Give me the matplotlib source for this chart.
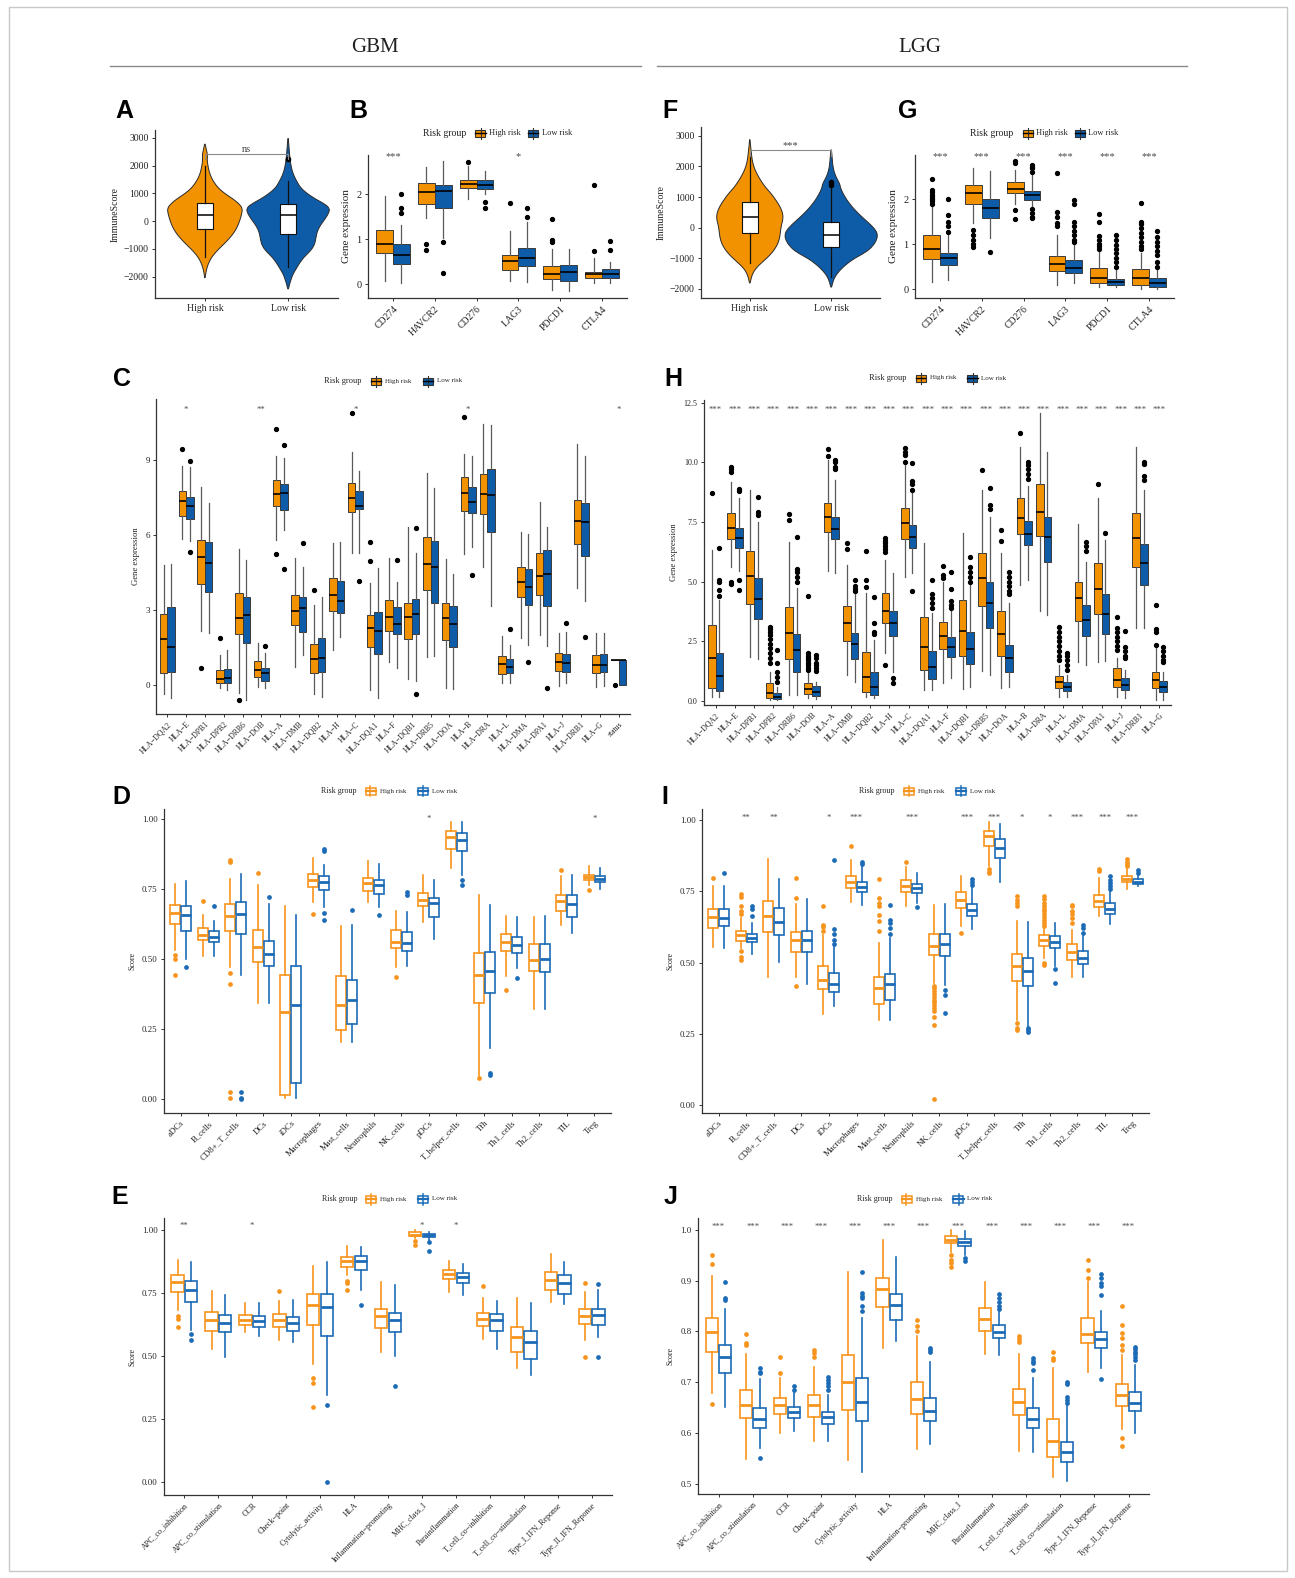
import numpy as np
import matplotlib
matplotlib.use("Agg")
import matplotlib.pyplot as plt
from matplotlib.patches import Rectangle, PathPatch
from matplotlib.path import Path
from matplotlib.lines import Line2D

plt.rcParams['font.family'] = ['Liberation Serif', 'DejaVu Serif']

W, H = 1295, 1578
ORANGE = "#F39200"
BLUE = "#0E5CA8"
ORANGE_L = "#F7941D"
BLUE_L = "#1C6BB6"
MINUS = "\u2212"

# ---------------- violin data (A = GBM, F = LGG) ----------------
groups = ["High risk", "Low risk"]
# value, relative half width
A_hi_y = [-2100, -1900, -1700, -1500, -1300, -1100, -900, -700, -500, -300, -100, 100, 300, 450,
          600, 800, 1000, 1200, 1400, 1600, 1800, 2000, 2200, 2400, 2550, 2700, 2800]
A_hi_w = [0, 0.02, 0.05, 0.1, 0.18, 0.3, 0.45, 0.6, 0.73, 0.83, 0.9, 0.95, 0.99, 1.0,
          0.93, 0.75, 0.52, 0.35, 0.24, 0.16, 0.11, 0.08, 0.06, 0.07, 0.04, 0.02, 0]
A_lo_y = [-2500, -2300, -2100, -1900, -1700, -1500, -1300, -1100, -900, -700, -500, -300, -100, 100,
          300, 450, 600, 800, 1000, 1200, 1400, 1600, 1800, 2000, 2200, 2500, 2800, 3050]
A_lo_w = [0, 0.03, 0.07, 0.12, 0.2, 0.28, 0.38, 0.52, 0.62, 0.66, 0.68, 0.72, 0.8, 0.9,
          0.98, 1.0, 0.9, 0.65, 0.45, 0.3, 0.22, 0.15, 0.1, 0.07, 0.05, 0.03, 0.015, 0]
F_hi_y = [-1850, -1700, -1500, -1300, -1100, -900, -700, -500, -300, -100, 100, 300, 500, 700,
          900, 1100, 1300, 1500, 1700, 1900, 2100, 2300, 2500, 2700, 2950]
F_hi_w = [0, 0.03, 0.08, 0.2, 0.4, 0.6, 0.75, 0.85, 0.9, 0.92, 0.95, 1.0, 0.98, 0.9,
          0.78, 0.65, 0.48, 0.35, 0.24, 0.15, 0.09, 0.06, 0.04, 0.02, 0]
F_lo_y = [-2000, -1800, -1600, -1400, -1200, -1000, -800, -600, -400, -250, -100, 100, 300, 500,
          700, 900, 1100, 1300, 1400, 1500, 1700, 1900, 2100, 2400, 2600]
F_lo_w = [0, 0.03, 0.08, 0.18, 0.32, 0.5, 0.75, 0.9, 0.98, 1.0, 0.97, 0.85, 0.7, 0.56,
          0.44, 0.34, 0.26, 0.2, 0.19, 0.16, 0.09, 0.05, 0.03, 0.015, 0]
# (whisker low, q1, median, q3, whisker high)
A_box = [(-1300, -300, 230, 640, 2000), (-1650, -480, 230, 600, 1450)]
A_out = [[], [2250]]
F_box = [(-1150, -170, 350, 850, 2300), (-1600, -630, -250, 170, 1300)]
F_out = [[], [1400, 1480]]

# ---------------- checkpoint genes (B = GBM, G = LGG) ----------------
ck_genes = ["CD274", "HAVCR2", "CD276", "LAG3", "PDCD1", "CTLA4"]
B_hi = [(0.08, 0.69, 0.89, 1.20, 1.96), (1.46, 1.78, 2.05, 2.24, 2.59), (1.90, 2.13, 2.22, 2.32, 2.62),
        (0.08, 0.32, 0.52, 0.66, 1.18), (-0.13, 0.11, 0.23, 0.41, 0.79), (0.04, 0.13, 0.23, 0.28, 0.58)]
B_hi_out = [[], [0.89, 0.77], [2.72], [1.79], [1.44, 0.98, 0.94], [2.2, 0.74]]
B_lo = [(0.02, 0.46, 0.65, 0.89, 1.31), (1.02, 1.70, 2.07, 2.20, 2.73), (2.01, 2.11, 2.21, 2.30, 2.51),
        (0.06, 0.41, 0.59, 0.81, 1.37), (-0.15, 0.08, 0.27, 0.43, 0.79), (0.04, 0.13, 0.23, 0.34, 0.50)]
B_lo_out = [[2.0, 1.68, 1.59], [0.93, 0.25], [1.82, 1.70], [1.70, 1.48], [], [0.96, 0.76]]
B_stars = ["***", "", "", "*", "", ""]

G_hi = [(0.15, 0.66, 0.90, 1.19, 1.85), (1.46, 1.90, 2.14, 2.31, 2.68), (1.90, 2.13, 2.22, 2.37, 2.64),
        (0.09, 0.40, 0.56, 0.73, 1.20), (0.05, 0.13, 0.25, 0.46, 0.87), (0.0, 0.10, 0.25, 0.44, 0.79)]
G_hi_out = [[2.44, 2.2, 2.16, 2.1, 2.05, 2.0, 1.95, 1.9], [1.31, 1.2, 1.1, 1.0, 0.94], [2.84, 2.81, 1.76, 1.55],
            [2.59, 1.72, 1.61, 1.47, 1.40], [1.67, 1.5, 1.17, 1.1, 1.0, 0.95, 0.9],
            [1.92, 1.5, 1.45, 1.35, 1.25, 1.16, 1.05, 0.95, 0.9]]
G_lo = [(0.20, 0.53, 0.68, 0.81, 1.20), (1.13, 1.57, 1.81, 2.01, 2.62), (1.80, 1.98, 2.09, 2.19, 2.53),
        (0.14, 0.35, 0.46, 0.64, 1.01), (0.05, 0.09, 0.15, 0.22, 0.42), (0.0, 0.05, 0.14, 0.24, 0.46)]
G_lo_out = [[2.01, 1.64, 1.48, 1.39, 1.27], [0.83], [2.76, 2.72, 2.68, 2.6, 1.79, 1.7, 1.6, 1.57],
            [1.98, 1.9, 1.5, 1.4, 1.3, 1.2, 1.1, 1.05], [1.2, 1.09, 0.98, 0.9, 0.8, 0.7, 0.6, 0.5],
            [1.3, 1.16, 1.05, 0.95, 0.85, 0.75, 0.6, 0.5]]
G_stars = ["***"] * 6

# ---------------- HLA genes (C = GBM, H = LGG) ----------------
C_genes = ["HLA-DQA2", "HLA-E", "HLA-DPB1", "HLA-DPB2", "HLA-DRB6", "HLA-DOB", "HLA-A", "HLA-DMB",
           "HLA-DQB2", "HLA-H", "HLA-C", "HLA-DQA1", "HLA-F", "HLA-DQB1", "HLA-DRB5", "HLA-DOA", "HLA-B",
           "HLA-DRA", "HLA-L", "HLA-DMA", "HLA-DPA1", "HLA-J", "HLA-DRB1", "HLA-G", "status"]
C_hi = [(-0.37, 0.49, 1.83, 2.83, 4.80), (5.83, 6.77, 7.37, 7.77, 8.76), (2.17, 4.04, 5.13, 5.80, 7.93),
        (-0.13, 0.09, 0.23, 0.60, 1.20), (-0.33, 2.03, 2.67, 3.69, 5.43), (-0.09, 0.33, 0.60, 0.96, 1.67),
        (5.80, 7.17, 7.64, 8.20, 9.17), (0.73, 2.40, 2.97, 3.60, 5.09), (-0.37, 0.47, 1.04, 1.64, 3.20),
        (1.40, 2.96, 3.60, 4.29, 5.67), (5.29, 6.93, 7.49, 8.09, 9.33), (-0.20, 1.51, 2.27, 2.80, 4.09),
        (0.93, 2.17, 2.73, 3.40, 5.07), (0.24, 1.84, 2.73, 3.29, 6.33), (1.11, 3.80, 4.84, 5.91, 8.49),
        (-0.13, 1.80, 2.67, 3.27, 5.03), (5.23, 6.97, 7.69, 8.33, 9.23), (4.73, 6.84, 7.63, 8.43, 10.44),
        (0.09, 0.43, 0.84, 1.16, 1.96), (1.89, 3.53, 4.13, 4.71, 6.13), (2.00, 3.60, 4.36, 5.27, 7.33),
        (-0.04, 0.57, 0.91, 1.29, 2.07), (3.89, 5.64, 6.56, 7.40, 9.63), (-0.07, 0.47, 0.80, 1.20, 2.07),
        (1, 1, 1, 1, 1)]
C_hi_out = [[], [9.43], [0.69], [1.87], [-0.6], [], [10.24, 5.24], [], [3.80], [], [10.87], [5.73, 4.95],
            [], [], [], [], [10.73], [], [], [], [], [], [], [], [0]]
C_lo = [(-0.51, 0.53, 1.53, 3.11, 4.84), (5.77, 6.64, 7.16, 7.51, 8.71), (2.09, 3.73, 4.89, 5.73, 7.29),
        (-0.20, 0.09, 0.27, 0.63, 1.40), (-0.60, 1.67, 2.80, 3.53, 5.00), (-0.13, 0.17, 0.47, 0.69, 1.29),
        (6.20, 7.00, 7.67, 8.03, 9.09), (1.20, 2.13, 3.07, 3.53, 4.73), (-0.47, 0.51, 1.07, 1.87, 3.51),
        (1.93, 2.89, 3.37, 4.16, 5.71), (5.27, 7.03, 7.16, 7.77, 8.56), (-0.53, 1.23, 2.16, 2.93, 4.69),
        (0.67, 2.03, 2.44, 3.11, 4.13), (0.17, 2.04, 2.84, 3.45, 5.27), (1.17, 3.27, 4.71, 5.76, 7.87),
        (-0.16, 1.51, 2.43, 3.17, 4.43), (5.53, 6.89, 7.33, 7.93, 9.16), (3.17, 6.13, 7.60, 8.65, 10.40),
        (0.09, 0.47, 0.73, 1.04, 1.60), (1.60, 3.20, 3.93, 4.63, 6.03), (1.56, 3.17, 4.43, 5.40, 6.33),
        (0.07, 0.53, 0.89, 1.24, 2.13), (3.37, 5.17, 6.53, 7.27, 9.17), (-0.04, 0.51, 0.80, 1.23, 2.07),
        (0, 0, 1, 1, 1)]
C_lo_out = [[], [8.97, 5.32], [], [], [], [1.56], [9.60, 4.64], [5.69], [], [], [4.17], [], [5.0],
            [6.27, -0.37], [], [], [4.40], [], [2.23], [0.93], [-0.11], [2.47], [1.93], [], []]
C_stars = ["", "*", "", "", "", "**", "", "", "", "", "*", "", "", "", "", "", "*", "", "", "", "", "",
           "", "", "*"]

H_genes = C_genes[:-1]
H_hi = [(0.18, 0.53, 1.8, 3.18, 6.33), (5.63, 6.77, 7.26, 7.89, 9.19), (1.86, 4.06, 5.24, 6.3, 8.84),
        (0.04, 0.11, 0.32, 0.77, 1.23), (0.25, 1.75, 2.84, 3.92, 6.68), (0.11, 0.29, 0.49, 0.74, 1.16),
        (5.46, 7.09, 7.7, 8.3, 10.1), (1.09, 2.53, 3.28, 3.98, 5.7), (0.15, 0.39, 1.02, 2.03, 4.51),
        (2.0, 3.25, 3.78, 4.51, 5.9), (5.21, 6.77, 7.47, 8.07, 10.1), (0.46, 1.3, 2.25, 3.53, 6.63),
        (0.74, 2.16, 2.72, 3.3, 5.0), (0.49, 1.89, 2.95, 4.23, 7.02), (1.27, 3.99, 5.14, 6.19, 8.84),
        (0.53, 1.9, 2.79, 3.78, 6.19), (4.86, 6.98, 7.68, 8.49, 10.63), (3.78, 6.91, 7.93, 9.09, 12.05),
        (0.18, 0.53, 0.78, 1.06, 1.5), (1.62, 3.35, 4.33, 5.0, 7.4), (1.65, 3.65, 4.71, 5.77, 8.52),
        (0.18, 0.6, 0.88, 1.37, 1.79), (3.04, 5.63, 6.82, 7.86, 10.63), (0.04, 0.53, 0.88, 1.23, 2.28)]
H_hi_out = [[8.7], [9.8, 9.7, 9.6, 5.0, 4.9], [], [3.1, 3.0, 2.9, 2.75, 2.6, 2.4, 2.2, 2.0, 1.8, 1.6],
            [7.83, 7.6], [4.41, 2.0, 1.9, 1.8, 1.7, 1.6, 1.5, 1.4, 1.3], [10.54, 10.28], [6.63, 6.37],
            [6.3, 5.07, 4.78], [6.82, 6.7, 6.6, 6.5, 6.35, 6.26, 1.5], [10.6, 10.45, 10.3, 10.0], [],
            [5.67, 5.28, 5.14], [], [9.68], [7.16, 6.72], [11.24], [],
            [3.1, 2.9, 2.7, 2.5, 2.3, 2.1, 1.9, 1.7], [], [9.09], [3.5, 3.04, 2.9, 2.7, 2.5, 2.3, 2.14],
            [], [4.0, 3.0, 2.9, 2.35]]
H_lo = [(0.18, 0.42, 1.05, 2.0, 4.23), (5.45, 6.42, 6.82, 7.26, 8.52), (1.75, 3.42, 4.26, 5.14, 7.51),
        (0.04, 0.07, 0.18, 0.35, 0.6), (0.25, 1.23, 2.14, 2.81, 4.72), (0.07, 0.21, 0.39, 0.63, 0.81),
        (5.35, 6.77, 7.19, 7.72, 9.26), (0.81, 1.75, 2.37, 2.86, 4.5), (0.11, 0.25, 0.6, 1.23, 2.56),
        (1.23, 2.72, 3.25, 3.78, 5.35), (5.35, 6.42, 6.89, 7.37, 8.75), (0.46, 0.91, 1.44, 2.11, 3.7),
        (0.95, 1.86, 2.25, 2.7, 3.75), (0.6, 1.55, 2.16, 2.88, 4.86), (1.09, 3.04, 4.09, 5.0, 7.72),
        (0.6, 1.23, 1.82, 2.35, 4.09), (5.07, 6.54, 6.98, 7.56, 9.01), (3.6, 5.81, 6.86, 7.72, 10.45),
        (0.18, 0.43, 0.6, 0.78, 1.09), (1.51, 2.74, 3.39, 4.02, 5.84), (1.69, 2.81, 3.65, 4.48, 6.75),
        (0.11, 0.46, 0.67, 0.98, 1.3), (3.04, 4.86, 5.77, 6.58, 8.84), (0.04, 0.39, 0.6, 0.85, 1.23)]
H_lo_out = [[6.4, 5.07, 5.0, 4.65, 4.4], [8.87, 8.8, 5.07, 4.65], [8.56, 7.93, 7.8], [2.14, 1.58, 1.23, 1.0, 0.8],
            [6.88, 5.52, 5.4, 5.2, 5.0], [1.93, 1.8, 1.6, 1.5, 1.4, 1.25], [10.1, 10.0, 9.8, 9.7],
            [5.07, 4.8, 4.7, 4.6], [4.37, 3.25, 2.9, 2.8], [0.95, 0.74], [9.99, 9.2, 9.1, 8.84, 4.6],
            [5.07, 4.5, 4.3, 4.1, 3.9], [5.39, 4.69, 4.2, 4.0, 3.9], [6.05, 5.63, 5.4, 5.2, 5.0],
            [8.94, 8.21, 8.03], [5.42, 5.2, 5.0, 4.8, 4.6, 4.5], [10.03, 9.9, 9.7, 9.5, 9.3], [],
            [2.0, 1.9, 1.7, 1.5, 1.3], [6.68, 6.5, 6.3], [7.05], [2.95, 2.28, 2.1, 1.9, 1.79],
            [10.03, 9.93, 9.43, 9.26], [2.28, 2.1, 1.9, 1.7, 1.65]]
H_stars = ["***"] * 24

# ---------------- immune cells (D = GBM, I = LGG) ----------------
cells = ["aDCs", "B_cells", "CD8+_T_cells", "DCs", "iDCs", "Macrophages", "Mast_cells", "Neutrophils",
         "NK_cells", "pDCs", "T_helper_cells", "Tfh", "Th1_cells", "Th2_cells", "TIL", "Treg"]
D_hi = [(0.533, 0.625, 0.664, 0.694, 0.769), (0.51, 0.569, 0.585, 0.611, 0.658), (0.47, 0.601, 0.652, 0.698, 0.787),
        (0.343, 0.488, 0.542, 0.602, 0.765), (0.004, 0.013, 0.311, 0.444, 0.688), (0.704, 0.756, 0.781, 0.805, 0.861),
        (0.204, 0.248, 0.336, 0.438, 0.617), (0.704, 0.742, 0.771, 0.789, 0.849), (0.47, 0.539, 0.561, 0.602, 0.67),
        (0.632, 0.688, 0.712, 0.736, 0.799), (0.825, 0.893, 0.935, 0.956, 0.988), (0.081, 0.343, 0.444, 0.521, 0.727),
        (0.438, 0.527, 0.561, 0.59, 0.655), (0.323, 0.458, 0.495, 0.554, 0.649), (0.623, 0.67, 0.706, 0.727, 0.795),
        (0.765, 0.781, 0.793, 0.801, 0.831)]
D_hi_out = [[0.515, 0.50, 0.442], [0.708], [0.855, 0.845, 0.45, 0.41, 0.025, 0.004], [0.807], [], [0.661], [], [],
            [0.436], [], [], [0.075], [0.388], [], [0.817], [0.745]]
D_lo = [(0.50, 0.601, 0.658, 0.688, 0.78), (0.512, 0.561, 0.577, 0.601, 0.635), (0.444, 0.59, 0.661, 0.704, 0.805),
        (0.343, 0.476, 0.519, 0.565, 0.696), (0.004, 0.057, 0.337, 0.474, 0.656), (0.686, 0.748, 0.777, 0.795, 0.835),
        (0.204, 0.268, 0.352, 0.426, 0.623), (0.686, 0.733, 0.763, 0.781, 0.839), (0.476, 0.53, 0.557, 0.595, 0.667),
        (0.571, 0.649, 0.70, 0.718, 0.781), (0.799, 0.885, 0.926, 0.952, 0.988), (0.182, 0.379, 0.457, 0.524, 0.694),
        (0.468, 0.521, 0.549, 0.579, 0.649), (0.323, 0.454, 0.50, 0.554, 0.655), (0.593, 0.649, 0.698, 0.727, 0.799),
        (0.75, 0.774, 0.787, 0.795, 0.825)]
D_lo_out = [[0.47], [0.688], [0.025, 0.004, 0.0], [0.721], [], [0.894, 0.885, 0.664, 0.64], [0.674], [0.658],
            [0.738, 0.727], [], [0.783, 0.765], [0.093, 0.085], [0.432], [], [], []]
D_stars = [""] * 9 + ["*"] + [""] * 5 + ["*"]

I_hi = [(0.553, 0.621, 0.659, 0.688, 0.768), (0.551, 0.577, 0.598, 0.612, 0.656), (0.449, 0.607, 0.665, 0.715, 0.865),
        (0.449, 0.536, 0.578, 0.607, 0.707), (0.32, 0.407, 0.437, 0.487, 0.596), (0.712, 0.762, 0.785, 0.805, 0.862),
        (0.299, 0.354, 0.41, 0.449, 0.569), (0.698, 0.748, 0.77, 0.789, 0.835), (0.428, 0.525, 0.56, 0.60, 0.703),
        (0.627, 0.692, 0.721, 0.747, 0.805), (0.838, 0.909, 0.944, 0.964, 0.996), (0.299, 0.436, 0.489, 0.53, 0.645),
        (0.516, 0.559, 0.578, 0.598, 0.621), (0.449, 0.508, 0.537, 0.566, 0.615), (0.662, 0.694, 0.717, 0.739, 0.797),
        (0.76, 0.783, 0.795, 0.805, 0.831)]
I_hi_out = [[0.797], [0.742, 0.73, 0.70, 0.68, 0.67, 0.54, 0.52, 0.51], [], [0.797, 0.727, 0.419],
            [0.698, 0.633, 0.625, 0.61], [0.911], [0.794, 0.727, 0.71, 0.698, 0.668, 0.645, 0.61], [0.852],
            [0.416, 0.41, 0.40, 0.39, 0.38, 0.37, 0.36, 0.35, 0.34, 0.33, 0.31, 0.281, 0.02], [0.604],
            [0.829, 0.82, 0.815], [0.733, 0.72, 0.71, 0.70, 0.287, 0.27, 0.264],
            [0.735, 0.725, 0.71, 0.70, 0.69, 0.68, 0.67, 0.66, 0.65, 0.64, 0.63, 0.50, 0.49],
            [0.703, 0.698, 0.68, 0.67, 0.655, 0.64], [0.828, 0.823], [0.864, 0.855, 0.845, 0.838]]
I_lo = [(0.551, 0.627, 0.656, 0.688, 0.768), (0.53, 0.571, 0.586, 0.601, 0.639), (0.501, 0.596, 0.641, 0.692, 0.794),
        (0.426, 0.536, 0.578, 0.612, 0.723), (0.346, 0.396, 0.426, 0.463, 0.557), (0.703, 0.747, 0.766, 0.783, 0.838),
        (0.299, 0.369, 0.424, 0.461, 0.586), (0.709, 0.744, 0.762, 0.777, 0.815), (0.422, 0.522, 0.566, 0.601, 0.707),
        (0.618, 0.662, 0.686, 0.706, 0.766), (0.785, 0.868, 0.903, 0.934, 0.987), (0.276, 0.416, 0.469, 0.516, 0.641),
        (0.487, 0.551, 0.572, 0.592, 0.639), (0.449, 0.495, 0.516, 0.539, 0.592), (0.637, 0.672, 0.688, 0.709, 0.754),
        (0.768, 0.777, 0.785, 0.795, 0.811)]
I_lo_out = [[0.815], [0.70, 0.69, 0.665], [], [], [0.862, 0.618, 0.60, 0.58, 0.565], [0.852, 0.845],
            [0.703, 0.65, 0.64, 0.62, 0.60], [0.694], [0.404, 0.385, 0.322], [0.795, 0.785, 0.774], [],
            [0.27, 0.262, 0.256], [0.478, 0.428], [0.633, 0.62, 0.605], [0.805, 0.79, 0.78, 0.77, 0.76],
            [0.826, 0.815]]
I_stars = ["", "**", "**", "", "*", "***", "", "***", "", "***", "***", "*", "*", "***", "***", "***"]

# ---------------- immune functions (E = GBM, J = LGG) ----------------
funcs = ["APC_co_inhibition", "APC_co_stimulation", "CCR", "Check-point", "Cytolytic_activity", "HLA",
         "Inflammation-promoting", "MHC_class_I", "Parainflammation", "T_cell_co-inhibition",
         "T_cell_co-stimulation", "Type_I_IFN_Reponse", "Type_II_IFN_Reponse"]
E_hi = [(0.682, 0.751, 0.791, 0.819, 0.881), (0.526, 0.599, 0.642, 0.675, 0.755), (0.593, 0.62, 0.642, 0.662, 0.709),
        (0.56, 0.612, 0.642, 0.665, 0.718), (0.466, 0.62, 0.702, 0.744, 0.857), (0.821, 0.852, 0.877, 0.89, 0.934),
        (0.513, 0.609, 0.656, 0.685, 0.792), (0.967, 0.974, 0.98, 0.989, 1.0), (0.752, 0.805, 0.825, 0.841, 0.874),
        (0.566, 0.616, 0.646, 0.669, 0.728), (0.45, 0.514, 0.574, 0.613, 0.728), (0.711, 0.762, 0.801, 0.83, 0.905),
        (0.563, 0.626, 0.656, 0.685, 0.752)]
E_hi_out = [[0.656, 0.646, 0.612], [], [], [0.755], [0.411, 0.391, 0.295], [0.795, 0.788, 0.759], [],
            [0.954, 0.938], [], [0.777], [], [], [0.788, 0.493]]
E_lo = [(0.60, 0.713, 0.762, 0.797, 0.87), (0.493, 0.593, 0.629, 0.662, 0.739), (0.579, 0.612, 0.636, 0.656, 0.709),
        (0.556, 0.599, 0.629, 0.653, 0.719), (0.344, 0.579, 0.691, 0.746, 0.87), (0.762, 0.838, 0.877, 0.897, 0.93),
        (0.497, 0.592, 0.642, 0.669, 0.781), (0.96, 0.97, 0.977, 0.984, 0.991), (0.739, 0.788, 0.812, 0.828, 0.864),
        (0.526, 0.599, 0.64, 0.665, 0.715), (0.424, 0.486, 0.556, 0.599, 0.709), (0.705, 0.744, 0.788, 0.821, 0.872),
        (0.574, 0.62, 0.66, 0.685, 0.759)]
E_lo_out = [[0.585, 0.56], [], [], [], [0.305, 0.0], [0.699], [0.38], [0.95, 0.917], [], [], [], [], [0.784, 0.493]]
E_stars = ["**", "", "*", "", "", "", "", "*", "*", "", "", "", ""]

J_hi = [(0.678, 0.759, 0.798, 0.827, 0.908), (0.549, 0.629, 0.656, 0.685, 0.755), (0.60, 0.637, 0.656, 0.67, 0.708),
        (0.585, 0.631, 0.656, 0.675, 0.73), (0.547, 0.646, 0.701, 0.754, 0.916), (0.768, 0.848, 0.883, 0.906, 0.979),
        (0.569, 0.637, 0.667, 0.701, 0.79), (0.957, 0.974, 0.98, 0.987, 0.999), (0.756, 0.801, 0.824, 0.846, 0.898),
        (0.565, 0.635, 0.662, 0.687, 0.756), (0.514, 0.554, 0.585, 0.627, 0.729), (0.72, 0.778, 0.795, 0.826, 0.898),
        (0.608, 0.654, 0.674, 0.696, 0.754)]
J_hi_out = [[0.951, 0.932, 0.657], [0.795, 0.778, 0.774], [0.749, 0.718], [0.764, 0.757, 0.75], [], [],
            [0.822, 0.81, 0.80], [0.951, 0.941, 0.934, 0.926], [], [0.79, 0.785, 0.78], [0.759, 0.747, 0.744],
            [0.94, 0.92, 0.905], [0.849, 0.813, 0.797, 0.787, 0.774, 0.764, 0.591, 0.575]]
J_lo = [(0.651, 0.719, 0.749, 0.774, 0.844), (0.571, 0.61, 0.628, 0.649, 0.707), (0.604, 0.629, 0.641, 0.652, 0.682),
        (0.585, 0.617, 0.631, 0.642, 0.675), (0.524, 0.624, 0.662, 0.708, 0.826), (0.782, 0.823, 0.852, 0.874, 0.946),
        (0.578, 0.623, 0.644, 0.669, 0.74), (0.951, 0.967, 0.975, 0.982, 0.998), (0.754, 0.787, 0.799, 0.813, 0.839),
        (0.562, 0.61, 0.627, 0.649, 0.708), (0.506, 0.543, 0.562, 0.582, 0.656), (0.728, 0.768, 0.785, 0.799, 0.841),
        (0.601, 0.644, 0.66, 0.68, 0.733)]
J_lo_out = [[0.898, 0.865, 0.862], [0.729, 0.72, 0.718, 0.551], [0.692, 0.685], [0.711, 0.705, 0.698, 0.692, 0.685],
            [0.916, 0.875, 0.87, 0.865, 0.849, 0.84], [], [0.767, 0.763, 0.76], [0.944, 0.939],
            [0.873, 0.865, 0.858, 0.85, 0.845], [0.747, 0.742, 0.737, 0.725], [0.701, 0.696, 0.672, 0.665, 0.66],
            [0.913, 0.905, 0.895, 0.89, 0.871, 0.706], [0.77, 0.765, 0.76, 0.755, 0.75, 0.743]]
J_stars = ["***"] * 13


fig = plt.figure(figsize=(W / 100, H / 100), dpi=100)
fig.patch.set_facecolor("white")


def axes_px(l, t, r, b):
    return fig.add_axes([l / W, 1 - b / H, (r - l) / W, (b - t) / H])


def fx(x):
    return x / W


def fy(y):
    return 1 - y / H


def style(ax, fs):
    for s in ["top", "right"]:
        ax.spines[s].set_visible(False)
    for s in ["left", "bottom"]:
        ax.spines[s].set_color("#333333")
        ax.spines[s].set_linewidth(0.9)
    ax.tick_params(length=2.5, width=0.7, color="#333333", labelsize=fs, pad=2, labelcolor="#222222")
    ax.set_facecolor("none")


def stats(rows, outs):
    return [dict(whislo=r[0], q1=r[1], med=r[2], q3=r[3], whishi=r[4], fliers=o) for r, o in zip(rows, outs)]


def fmt(v, nd):
    s = f"{v:.{nd}f}"
    return s.replace("-", MINUS)


def legend(cx, cy, hollow, fs_title, fs_item):
    fig.text(fx(cx - 31), fy(cy), "Risk group", ha="right", va="center", fontsize=fs_title, color="#222222")
    for dx, col, lab in [(-17, ORANGE_L if hollow else ORANGE, "High risk"), (35, BLUE_L if hollow else BLUE, "Low risk")]:
        kx = cx + dx
        edge = col if hollow else "#333333"
        fig.add_artist(Line2D([fx(kx), fx(kx)], [fy(cy - 5.5), fy(cy + 5.5)], color=edge, lw=1.1 if hollow else 0.8))
        fig.add_artist(Rectangle((fx(kx - 5), fy(cy + 3.5)), 10 / W, 7 / H, facecolor="white" if hollow else col,
                                 edgecolor=edge, lw=1.1 if hollow else 0.8, transform=fig.transFigure))
        fig.add_artist(Line2D([fx(kx - 5), fx(kx + 5)], [fy(cy), fy(cy)], color=col if hollow else "black",
                              lw=1.6 if hollow else 1.0))
        fig.text(fx(kx + 9), fy(cy), lab, ha="left", va="center", fontsize=fs_item, color="#222222")


def box_panel(rect, cats, hi, hi_out, lo, lo_out, stars, star_y, ylim, yticks, ynd, ylabel, hollow,
              fs_tick, fs_x, fs_lab, fs_star, leg_y, leg_fs):
    ax = axes_px(*rect)
    n = len(cats)
    x = np.arange(1, n + 1)
    cols = [ORANGE_L, BLUE_L] if hollow else [ORANGE, BLUE]
    for rows, outs, off, col in [(hi, hi_out, -0.2, cols[0]), (lo, lo_out, 0.2, cols[1])]:
        if hollow:
            ax.bxp(stats(rows, outs), positions=x + off, widths=0.36, patch_artist=True, showcaps=False,
                   boxprops=dict(facecolor="white", edgecolor=col, linewidth=1.2),
                   medianprops=dict(color=col, linewidth=2.0),
                   whiskerprops=dict(color=col, linewidth=1.2),
                   flierprops=dict(marker="o", markerfacecolor=col, markeredgecolor=col, markersize=2.4))
        else:
            ax.bxp(stats(rows, outs), positions=x + off, widths=0.4, patch_artist=True, showcaps=False,
                   boxprops=dict(facecolor=col, edgecolor="#3a3a3a", linewidth=0.7),
                   medianprops=dict(color="black", linewidth=1.2),
                   whiskerprops=dict(color="#5a5a5a", linewidth=0.9),
                   flierprops=dict(marker="o", markerfacecolor="black", markeredgecolor="black", markersize=2.8))
    for xi, s in zip(x, stars):
        if s:
            ax.text(xi, star_y, s, ha="center", va="center", fontsize=fs_star, color="#4a4a4a")
    ax.set_xlim(0.4, n + 0.6)
    ax.set_ylim(*ylim)
    ax.set_yticks(yticks)
    ax.set_yticklabels([fmt(v, ynd) for v in yticks])
    ax.set_xticks(x)
    ax.set_xticklabels([c.replace("-", MINUS) for c in cats], rotation=45, ha="right", va="top",
                       rotation_mode="anchor", fontsize=fs_x)
    ax.set_ylabel(ylabel, fontsize=fs_lab, color="#222222", labelpad=4)
    style(ax, fs_tick)
    ax.tick_params(axis="x", labelsize=fs_x)
    legend((rect[0] + rect[2]) / 2, leg_y, hollow, *leg_fs)
    return ax


def violin_outline(pos, ys, ws):
    # closed outline through the read-off profile, drawn with quadratic curves
    right = [(pos + w, y) for y, w in zip(ys, ws)]
    left = [(pos - w, y) for y, w in zip(ys[::-1], ws[::-1])][1:-1]
    pts = np.array(right + left)
    n = len(pts)
    mids = (pts + np.roll(pts, -1, axis=0)) / 2
    verts = [mids[-1]]
    codes = [Path.MOVETO]
    for i in range(n):
        verts += [pts[i], mids[i]]
        codes += [Path.CURVE3, Path.CURVE3]
    verts.append(mids[-1])
    codes.append(Path.CLOSEPOLY)
    return Path(verts, codes)


def violin_panel(rect, ylim, profs, maxws, boxes, outs, br_y, br_txt):
    ax = axes_px(*rect)
    for pos, (ys, ws), mw, col in zip([1, 2], profs, maxws, [ORANGE, BLUE]):
        path = violin_outline(pos, list(ys), list(np.array(ws) * mw))
        ax.add_patch(PathPatch(path, facecolor=col, edgecolor="#2a2a2a", linewidth=0.7, zorder=1))
    ax.bxp(stats(boxes, outs), positions=[1, 2], widths=0.2, patch_artist=True, showcaps=False,
           boxprops=dict(facecolor="white", edgecolor="#111111", linewidth=0.8),
           medianprops=dict(color="black", linewidth=1.1),
           whiskerprops=dict(color="#111111", linewidth=0.9),
           flierprops=dict(marker="o", markerfacecolor="black", markeredgecolor="black", markersize=3),
           zorder=2)
    ax.plot([1, 1, 2, 2], [br_y - 200, br_y, br_y, br_y - 200], color="#8a8a8a", lw=0.8, zorder=3)
    ax.text(1.5, br_y, br_txt, ha="center", va="bottom", fontsize=7.5, color="#444444")
    ax.set_xlim(0.4, 2.6)
    ax.set_ylim(*ylim)
    ticks = [-2000, -1000, 0, 1000, 2000, 3000]
    ax.set_yticks(ticks)
    ax.set_yticklabels([fmt(v, 0) for v in ticks])
    ax.set_xticks([1, 2])
    ax.set_xticklabels(groups)
    ax.set_ylabel("ImmuneScore", fontsize=7, color="#222222", labelpad=3)
    style(ax, 7)
    return ax


# frame, headers
fig.add_artist(Rectangle((fx(9), fy(1571)), 1278 / W, 1564 / H, fill=False, edgecolor="#c8c8c8", lw=1.0,
                         transform=fig.transFigure))
fig.text(fx(375), fy(48), "GBM", ha="center", va="center", fontsize=15, color="#222222")
fig.text(fx(920), fy(48), "LGG", ha="center", va="center", fontsize=15, color="#222222")
fig.add_artist(Line2D([fx(110), fx(641)], [fy(66), fy(66)], color="#8a8a8a", lw=1.0))
fig.add_artist(Line2D([fx(657), fx(1187)], [fy(66), fy(66)], color="#8a8a8a", lw=1.0))

# row 1
violin_panel((155, 130, 338, 298), (-2766, 3277), [(A_hi_y, A_hi_w), (A_lo_y, A_lo_w)], [0.45, 0.5],
             A_box, A_out, 2430, "ns")
violin_panel((701, 127, 880, 298), (-2294, 3284), [(F_hi_y, F_hi_w), (F_lo_y, F_lo_w)], [0.41, 0.57],
             F_box, F_out, 2533, "***")
box_panel((368, 155, 627, 298), ck_genes, B_hi, B_hi_out, B_lo, B_lo_out, B_stars, 2.83, (-0.303, 2.864),
          [0, 1, 2], 0, "Gene expression", False, 7.5, 7, 8, 7.5, 133, (7, 6))
box_panel((915, 155, 1174, 298), ck_genes, G_hi, G_hi_out, G_lo, G_lo_out, G_stars, 2.94, (-0.2, 2.98),
          [0, 1, 2], 0, "Gene expression", False, 7.5, 7, 8, 7.5, 133, (7, 6))

# row 2
box_panel((156, 399, 630, 714), C_genes, C_hi, C_hi_out, C_lo, C_lo_out, C_stars, 11.0, (-1.16, 11.43),
          [0, 3, 6, 9], 0, "Gene expression", False, 6.5, 5.6, 6.2, 6.2, 381, (6, 5))
box_panel((704, 400, 1171, 705), H_genes, H_hi, H_hi_out, H_lo, H_lo_out, H_stars, 12.2, (-0.17, 12.61),
          [0, 2.5, 5, 7.5, 10, 12.5], 1, "Gene expression", False, 5.8, 5.6, 6.2, 6.2, 378, (6, 5))

# row 3
box_panel((164, 809, 611, 1113), cells, D_hi, D_hi_out, D_lo, D_lo_out, D_stars, 1.0, (-0.05, 1.036),
          [0, 0.25, 0.5, 0.75, 1.0], 2, "Score", True, 6.3, 6.3, 5.8, 6.2, 791, (5.8, 5))
box_panel((702, 809, 1149, 1113), cells, I_hi, I_hi_out, I_lo, I_lo_out, I_stars, 1.007, (-0.029, 1.04),
          [0, 0.25, 0.5, 0.75, 1.0], 2, "Score", True, 6.3, 6.3, 5.8, 6.2, 791, (5.8, 5))

# row 4
box_panel((164, 1218, 612, 1495), funcs, E_hi, E_hi_out, E_lo, E_lo_out, E_stars, 1.013, (-0.053, 1.046),
          [0, 0.25, 0.5, 0.75, 1.0], 2, "Score", True, 6.3, 5.8, 5.8, 6.2, 1199, (5.8, 5))
box_panel((698, 1218, 1149, 1494), funcs, J_hi, J_hi_out, J_lo, J_lo_out, J_stars, 1.0065, (0.4803, 1.023),
          [0.5, 0.6, 0.7, 0.8, 0.9, 1.0], 1, "Score", True, 6.3, 5.8, 5.8, 6.2, 1199, (5.8, 5))

# panel letters
for lab, x, y in [("A", 124, 111), ("B", 358, 111), ("F", 670, 111), ("G", 908, 111),
                  ("C", 122, 379), ("H", 673, 379), ("D", 121, 797), ("I", 665, 797),
                  ("E", 120, 1197), ("J", 671, 1197)]:
    fig.text(fx(x), fy(y), lab, ha="center", va="center", fontsize=18, fontweight="bold",
             family=["Liberation Sans", "DejaVu Sans"], color="black")

fig.savefig("out.png", dpi=100, facecolor="white")
